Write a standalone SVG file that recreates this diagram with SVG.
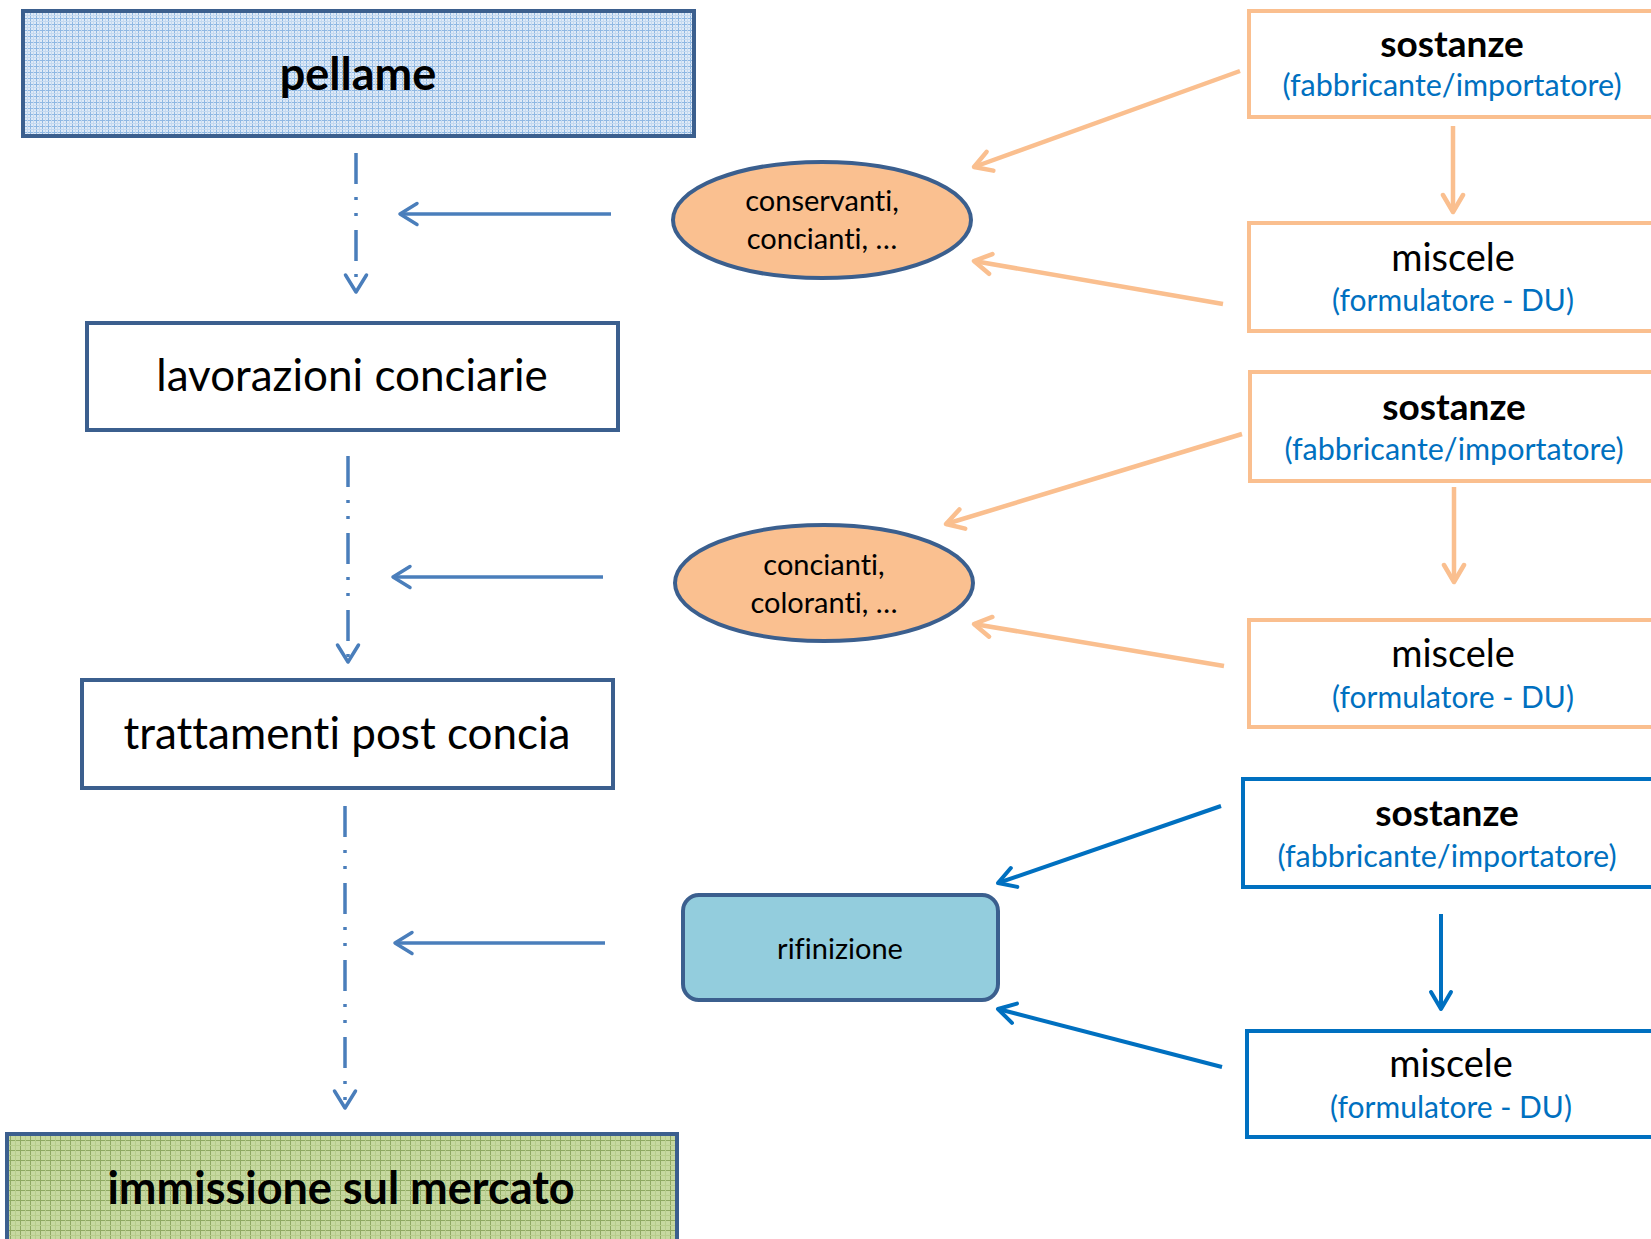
<svg xmlns="http://www.w3.org/2000/svg" width="1651" height="1239" viewBox="0 0 1651 1239">
<style>
  text { font-family: Lato, "Liberation Sans", sans-serif; text-anchor: middle; fill: #000; font-variant-ligatures: none; font-feature-settings: "liga" 0, "clig" 0; }
  .b { font-weight: bold; }
  .blue { fill: #0070c0; }
  .nodeDark { stroke: #3b5f8e; stroke-width: 4; }
  .peachBox { fill: #fff; stroke: #fabf8f; stroke-width: 4; }
  .blueBox { fill: #fff; stroke: #0070c0; stroke-width: 4; }
  .flow { fill: none; stroke: #4a7ebb; stroke-width: 3.5; }
  .dash { stroke-dasharray: 31 13 3 13 3 14; }
  .peach { fill: none; stroke: #fabf8f; stroke-width: 4.5; }
  .bl { fill: none; stroke: #0070c0; stroke-width: 4; }
</style>
<defs>
  <pattern id="gridBlue" width="6" height="6" patternUnits="userSpaceOnUse">
    <rect width="6" height="6" fill="#dfeaf7"/>
    <path d="M0 0.5H6M0.5 0V6" stroke="#8fb8e3" stroke-width="1"/>
    <path d="M0 3.5H6M3.5 0V6" stroke="#c4d9f0" stroke-width="1"/>
  </pattern>
  <pattern id="gridGreen" width="10" height="10" patternUnits="userSpaceOnUse">
    <rect width="10" height="10" fill="#c6d8a0"/>
    <path d="M0 0.5H10M0.5 0V10" stroke="#8ea862" stroke-width="1"/>
    <path d="M0 5.5H10M5.5 0V10" stroke="#b7cc8c" stroke-width="1"/>
  </pattern>
  <marker id="aDark" viewBox="0 0 26 26" refX="22" refY="13" markerWidth="26" markerHeight="26" markerUnits="userSpaceOnUse" orient="auto">
    <path d="M5 2.5 L22 13 L5 23.5" fill="none" stroke="#4a7ebb" stroke-width="3.5" stroke-linecap="round" stroke-linejoin="round"/>
  </marker>
  <marker id="aPeach" viewBox="0 0 26 26" refX="22" refY="13" markerWidth="26" markerHeight="26" markerUnits="userSpaceOnUse" orient="auto">
    <path d="M5 3 L22 13 L5 23" fill="none" stroke="#fabf8f" stroke-width="4.5" stroke-linecap="round" stroke-linejoin="round"/>
  </marker>
  <marker id="aBlue" viewBox="0 0 26 26" refX="22" refY="13" markerWidth="26" markerHeight="26" markerUnits="userSpaceOnUse" orient="auto">
    <path d="M5 3 L22 13 L5 23" fill="none" stroke="#0070c0" stroke-width="4" stroke-linecap="round" stroke-linejoin="round"/>
  </marker>
</defs>
<rect width="1651" height="1239" fill="#fff"/>

<g id="connectors">
  <path class="flow dash" d="M356 153 V292" marker-end="url(#aDark)"/>
  <path class="flow dash" d="M348 456 V662" marker-end="url(#aDark)"/>
  <path class="flow dash" d="M345 806 V1108" marker-end="url(#aDark)"/>
  <path class="flow" d="M611 214 H400" marker-end="url(#aDark)"/>
  <path class="flow" d="M603 577 H393" marker-end="url(#aDark)"/>
  <path class="flow" d="M605 943 H395" marker-end="url(#aDark)"/>
  <path class="peach" d="M1240 71 L974 167" marker-end="url(#aPeach)"/>
  <path class="peach" d="M1223 304 L974 261" marker-end="url(#aPeach)"/>
  <path class="peach" d="M1453 126 V212" marker-end="url(#aPeach)"/>
  <path class="peach" d="M1242 434 L946 524" marker-end="url(#aPeach)"/>
  <path class="peach" d="M1224 666 L974 624" marker-end="url(#aPeach)"/>
  <path class="peach" d="M1454 487 V582" marker-end="url(#aPeach)"/>
  <path class="bl" d="M1221 806 L998 883" marker-end="url(#aBlue)"/>
  <path class="bl" d="M1222 1067 L998 1009" marker-end="url(#aBlue)"/>
  <path class="bl" d="M1441 914 V1009" marker-end="url(#aBlue)"/>
</g>

<g id="pellame">
  <rect class="nodeDark" x="23" y="11" width="671" height="125" fill="url(#gridBlue)"/>
  <text class="b" x="358" y="90" font-size="45">pellame</text>
</g>
<g id="lavorazioni">
  <rect class="nodeDark" x="87" y="323" width="531" height="107" fill="#fff"/>
  <text x="352" y="391" font-size="44">lavorazioni conciarie</text>
</g>
<g id="trattamenti">
  <rect class="nodeDark" x="82" y="680" width="531" height="108" fill="#fff"/>
  <text x="347" y="749" font-size="44">trattamenti post concia</text>
</g>
<g id="immissione">
  <rect class="nodeDark" x="7" y="1134" width="670" height="112" fill="url(#gridGreen)"/>
  <text class="b" x="341" y="1204" font-size="45">immissione sul mercato</text>
</g>

<g id="ellisse1">
  <ellipse class="nodeDark" cx="822" cy="220" rx="149" ry="58" fill="#fac090"/>
  <text x="822" y="211" font-size="29">conservanti,</text>
  <text x="822" y="249" font-size="29">concianti, …</text>
</g>
<g id="ellisse2">
  <ellipse class="nodeDark" cx="824" cy="583" rx="149" ry="58" fill="#fac090"/>
  <text x="824" y="575" font-size="29">concianti,</text>
  <text x="824" y="613" font-size="29">coloranti, …</text>
</g>
<g id="rifinizione">
  <rect class="nodeDark" x="683" y="895" width="315" height="105" rx="16" fill="#93cddd"/>
  <text x="840" y="959" font-size="29">rifinizione</text>
</g>

<g id="sostanze1">
  <rect class="peachBox" x="1249" y="11" width="420" height="106"/>
  <text class="b" x="1452" y="57" font-size="37">sostanze</text>
  <text class="blue" x="1452" y="96" font-size="30.5">(fabbricante/importatore)</text>
</g>
<g id="miscele1">
  <rect class="peachBox" x="1249" y="223" width="420" height="108"/>
  <text x="1453" y="271" font-size="38">miscele</text>
  <text class="blue" x="1453" y="311" font-size="30">(formulatore - DU)</text>
</g>
<g id="sostanze2">
  <rect class="peachBox" x="1250" y="372" width="420" height="109"/>
  <text class="b" x="1454" y="420" font-size="37">sostanze</text>
  <text class="blue" x="1454" y="460" font-size="30.5">(fabbricante/importatore)</text>
</g>
<g id="miscele2">
  <rect class="peachBox" x="1249" y="620" width="420" height="107"/>
  <text x="1453" y="667" font-size="38">miscele</text>
  <text class="blue" x="1453" y="708" font-size="30">(formulatore - DU)</text>
</g>
<g id="sostanze3">
  <rect class="blueBox" x="1243" y="779" width="420" height="108"/>
  <text class="b" x="1447" y="826" font-size="37">sostanze</text>
  <text class="blue" x="1447" y="867" font-size="30.5">(fabbricante/importatore)</text>
</g>
<g id="miscele3">
  <rect class="blueBox" x="1247" y="1031" width="420" height="106"/>
  <text x="1451" y="1077" font-size="38">miscele</text>
  <text class="blue" x="1451" y="1118" font-size="30">(formulatore - DU)</text>
</g>
</svg>
